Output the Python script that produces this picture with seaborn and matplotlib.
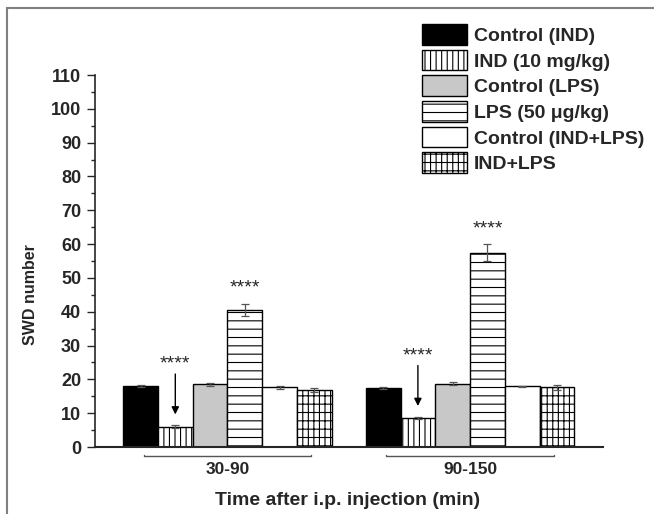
import numpy as np
import pandas as pd
import matplotlib
matplotlib.use("Agg")
import matplotlib.pyplot as plt
import seaborn as sns
from matplotlib.patches import Rectangle
from matplotlib.ticker import MultipleLocator

# ---------------- data ----------------
periods = ["30-90", "90-150"]
conditions = ["Control (IND)", "IND (10 mg/kg)", "Control (LPS)",
              "LPS (50 μg/kg)", "Control (IND+LPS)", "IND+LPS"]
swd_30_90 = [17.9, 6.0, 18.5, 40.6, 17.6, 16.9]
swd_90_150 = [17.4, 8.5, 18.7, 57.5, 17.9, 17.6]
sem_30_90 = [0.3, 0.4, 0.4, 1.8, 0.4, 0.5]
sem_90_150 = [0.2, 0.3, 0.5, 2.4, 0.2, 0.6]
significant = [False, True, False, True, False, False]
y_ticks = [0, 10, 20, 30, 40, 50, 60, 70, 80, 90, 100, 110]

# ---------------- style ----------------
fills = ["black", "white", "#c8c8c8", "white", "white", "white"]
hatches = ["", "|||", "", "--", "", "|||--"]

sns.set_style("ticks")
plt.rcParams["font.family"] = ["Liberation Sans", "DejaVu Sans"]
plt.rcParams["font.weight"] = "bold"
plt.rcParams["hatch.color"] = "#3a3a3a"
plt.rcParams["hatch.linewidth"] = 0.8

df = pd.DataFrame({
    "period": [p for p in periods for _ in conditions],
    "condition": conditions * len(periods),
    "swd": swd_30_90 + swd_90_150,
})
sems = {periods[0]: sem_30_90, periods[1]: sem_90_150}

W, H = 654, 514
fig = plt.figure(figsize=(W / 100, H / 100), dpi=100)
ax = fig.add_axes([95 / W, (H - 447) / H, (603 - 95) / W, (447 - 75) / H])

sns.barplot(data=df, x="period", y="swd", hue="condition",
            order=periods, hue_order=conditions,
            palette=dict(zip(conditions, fills)), saturation=1,
            width=0.86, errorbar=None, legend=False,
            edgecolor="black", linewidth=1.0, ax=ax)

for ci, (cont, h) in enumerate(zip(ax.containers, hatches)):
    xs, ys, es = [], [], []
    for pi, p in enumerate(cont.patches):
        p.set_hatch(h)
        xs.append(p.get_x() + p.get_width() / 2)
        ys.append(p.get_height())
        es.append(sems[periods[pi]][ci])
    ax.errorbar(xs, ys, yerr=es, fmt="none", ecolor="#555555",
                elinewidth=0.9, capsize=2.7, capthick=0.9, zorder=5)
    if significant[ci]:
        for x, y, e in zip(xs, ys, es):
            if ci == 1:
                ax.annotate("", xy=(x, y + 2.8), xytext=(x, y + 16.4),
                            arrowprops=dict(arrowstyle="-|>", color="black",
                                            lw=1.0, mutation_scale=11))
                ax.text(x, y + 16.0, "****", ha="center", va="bottom",
                        fontsize=14, fontweight="normal")
            else:
                ax.text(x, y + e + 2.0, "****", ha="center", va="bottom",
                        fontsize=14, fontweight="normal")

ax.set_xlim(-0.546, 1.548)
ax.set_ylim(0, 110)
ax.set_yticks(y_ticks)
ax.yaxis.set_minor_locator(MultipleLocator(5))
ax.tick_params(axis="y", which="major", direction="out", length=6,
               width=1.0, labelsize=13, pad=4)
ax.tick_params(axis="y", which="minor", direction="out", length=3, width=1.0)
ax.tick_params(axis="x", length=0, labelsize=12.5, pad=11)
for lbl in ax.get_xticklabels() + ax.get_yticklabels():
    lbl.set_fontweight("bold")
sns.despine(ax=ax)
ax.spines["left"].set_linewidth(1.2)
ax.spines["bottom"].set_linewidth(1.5)

# group brackets under each period
for gi in range(len(periods)):
    x0, x1 = gi - 0.345, gi + 0.345
    ax.plot([x0, x0, x1, x1], [-2.3, -2.7, -2.7, -2.3],
            color="#555555", lw=1.0, clip_on=False)

ax.set_xlabel("Time after i.p. injection (min)", fontsize=14,
              fontweight="bold")
ax.xaxis.set_label_coords(0.497, -0.122)
ax.set_ylabel("SWD number", fontsize=11.5, fontweight="bold")
ax.yaxis.set_label_coords(-0.113, 0.41)

leg = ax.legend(handles=ax.containers, labels=conditions,
                loc="upper left", bbox_to_anchor=(422 / W, 1 - 24 / H),
                bbox_transform=fig.transFigure, frameon=False,
                prop={"weight": "bold", "size": 14},
                handlelength=2.3, handleheight=1.25, handletextpad=0.36,
                labelspacing=0.25, borderpad=0, borderaxespad=0)

fig.add_artist(Rectangle((7 / W, -0.1), 1.2, (H - 8) / H + 0.1,
                         transform=fig.transFigure, fill=False,
                         edgecolor="#808080", lw=1.5))

fig.savefig("out.png", dpi=100)
